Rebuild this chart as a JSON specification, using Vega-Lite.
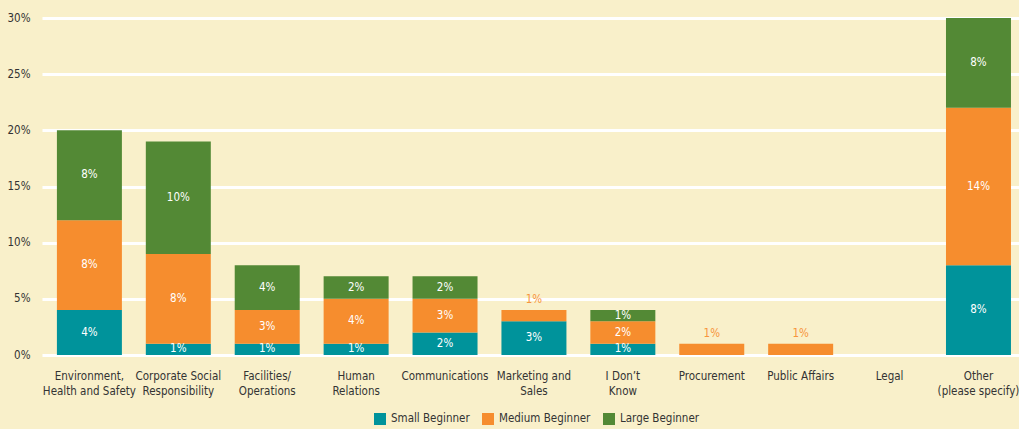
{
  "$schema": "https://vega.github.io/schema/vega-lite/v6.json",
  "autosize": "none",
  "width": 977,
  "height": 337,
  "padding": {"left": 42, "top": 18, "right": 0, "bottom": 74},
  "background": "#F9F0CA",
  "config": {
    "view": {"stroke": null},
    "font": "DejaVu Sans Condensed, sans-serif",
    "axis": {"labelFont": "DejaVu Sans Condensed, sans-serif", "labelColor": "#333333", "labelFontSize": 11.5},
    "legend": {"labelFont": "DejaVu Sans Condensed, sans-serif"}
  },
  "data": {
    "values": [
      {"category": "Environment, Health and Safety", "size": "Small Beginner", "value": 4},
      {"category": "Environment, Health and Safety", "size": "Medium Beginner", "value": 8},
      {"category": "Environment, Health and Safety", "size": "Large Beginner", "value": 8},
      {"category": "Corporate Social Responsibility", "size": "Small Beginner", "value": 1},
      {"category": "Corporate Social Responsibility", "size": "Medium Beginner", "value": 8},
      {"category": "Corporate Social Responsibility", "size": "Large Beginner", "value": 10},
      {"category": "Facilities/ Operations", "size": "Small Beginner", "value": 1},
      {"category": "Facilities/ Operations", "size": "Medium Beginner", "value": 3},
      {"category": "Facilities/ Operations", "size": "Large Beginner", "value": 4},
      {"category": "Human Relations", "size": "Small Beginner", "value": 1},
      {"category": "Human Relations", "size": "Medium Beginner", "value": 4},
      {"category": "Human Relations", "size": "Large Beginner", "value": 2},
      {"category": "Communications", "size": "Small Beginner", "value": 2},
      {"category": "Communications", "size": "Medium Beginner", "value": 3},
      {"category": "Communications", "size": "Large Beginner", "value": 2},
      {"category": "Marketing and Sales", "size": "Small Beginner", "value": 3},
      {"category": "Marketing and Sales", "size": "Medium Beginner", "value": 1},
      {"category": "Marketing and Sales", "size": "Large Beginner", "value": 0},
      {"category": "I Don’t Know", "size": "Small Beginner", "value": 1},
      {"category": "I Don’t Know", "size": "Medium Beginner", "value": 2},
      {"category": "I Don’t Know", "size": "Large Beginner", "value": 1},
      {"category": "Procurement", "size": "Small Beginner", "value": 0},
      {"category": "Procurement", "size": "Medium Beginner", "value": 1},
      {"category": "Procurement", "size": "Large Beginner", "value": 0},
      {"category": "Public Affairs", "size": "Small Beginner", "value": 0},
      {"category": "Public Affairs", "size": "Medium Beginner", "value": 1},
      {"category": "Public Affairs", "size": "Large Beginner", "value": 0},
      {"category": "Legal", "size": "Small Beginner", "value": 0},
      {"category": "Legal", "size": "Medium Beginner", "value": 0},
      {"category": "Legal", "size": "Large Beginner", "value": 0},
      {"category": "Other (please specify)", "size": "Small Beginner", "value": 8},
      {"category": "Other (please specify)", "size": "Medium Beginner", "value": 14},
      {"category": "Other (please specify)", "size": "Large Beginner", "value": 8}
    ]
  },
  "transform": [
    {"calculate": "indexof(['Small Beginner','Medium Beginner','Large Beginner'], datum.size)", "as": "rank"},
    {"stack": "value", "groupby": ["category"], "sort": [{"field": "rank", "order": "ascending"}], "as": ["v0", "v1"]},
    {"calculate": "(datum.v0 + datum.v1) / 2", "as": "mid"},
    {"calculate": "datum.value + '%'", "as": "lbl"}
  ],
  "encoding": {
    "x": {
      "field": "category",
      "type": "nominal",
      "sort": null,
      "title": null,
      "scale": {"paddingInner": 0.269, "paddingOuter": 0.129, "align": 0.65},
      "axis": {
        "labelAngle": 0,
        "domain": false,
        "ticks": false,
        "labelPadding": 15,
        "labelLineHeight": 15,
        "labelLimit": 200,
        "labelExpr": "{'Environment, Health and Safety': ['Environment,', 'Health and Safety'], 'Corporate Social Responsibility': ['Corporate Social', 'Responsibility'], 'Facilities/ Operations': ['Facilities/', 'Operations'], 'Human Relations': ['Human', 'Relations'], 'Marketing and Sales': ['Marketing and', 'Sales'], 'I Don’t Know': ['I Don’t', 'Know'], 'Other (please specify)': ['Other', '(please specify)']}[datum.label] || datum.label"
      }
    }
  },
  "layer": [
    {
      "mark": {"type": "bar"},
      "encoding": {
        "y": {
          "field": "v0",
          "type": "quantitative",
          "title": null,
          "scale": {"domain": [0, 30], "nice": false},
          "axis": {
            "values": [0, 5, 10, 15, 20, 25, 30],
            "labelExpr": "datum.value + '%'",
            "domain": false,
            "ticks": false,
            "labelPadding": 12,
            "grid": true,
            "gridColor": "#FFFFFF",
            "gridWidth": 3,
            "gridOpacity": 1
          }
        },
        "y2": {"field": "v1"},
        "color": {
          "field": "size",
          "type": "nominal",
          "scale": {
            "domain": ["Small Beginner", "Medium Beginner", "Large Beginner"],
            "range": ["#00939B", "#F68D2E", "#538935"]
          },
          "legend": {
            "title": null,
            "orient": "none",
            "legendX": 332,
            "legendY": 395,
            "direction": "horizontal",
            "symbolType": "square",
            "symbolSize": 144,
            "symbolStrokeWidth": 0,
            "symbolOpacity": 1,
            "labelFontSize": 11.5,
            "labelColor": "#333333",
            "labelOffset": 5,
            "columnPadding": 12,
            "padding": 0
          }
        }
      }
    },
    {
      "transform": [
        {"filter": "datum.value > 0 && !(datum.size === 'Medium Beginner' && datum.value <= 1)"}
      ],
      "mark": {"type": "text", "color": "#FFFFFF", "fontSize": 11.5, "baseline": "middle"},
      "encoding": {
        "y": {"field": "mid", "type": "quantitative"},
        "text": {"field": "lbl", "type": "nominal"}
      }
    },
    {
      "transform": [
        {"filter": "datum.size === 'Medium Beginner' && datum.value > 0 && datum.value <= 1"}
      ],
      "mark": {"type": "text", "color": "#F7953C", "fontSize": 11.5, "baseline": "bottom", "dy": -5},
      "encoding": {
        "y": {"field": "v1", "type": "quantitative"},
        "text": {"field": "lbl", "type": "nominal"}
      }
    }
  ]
}
